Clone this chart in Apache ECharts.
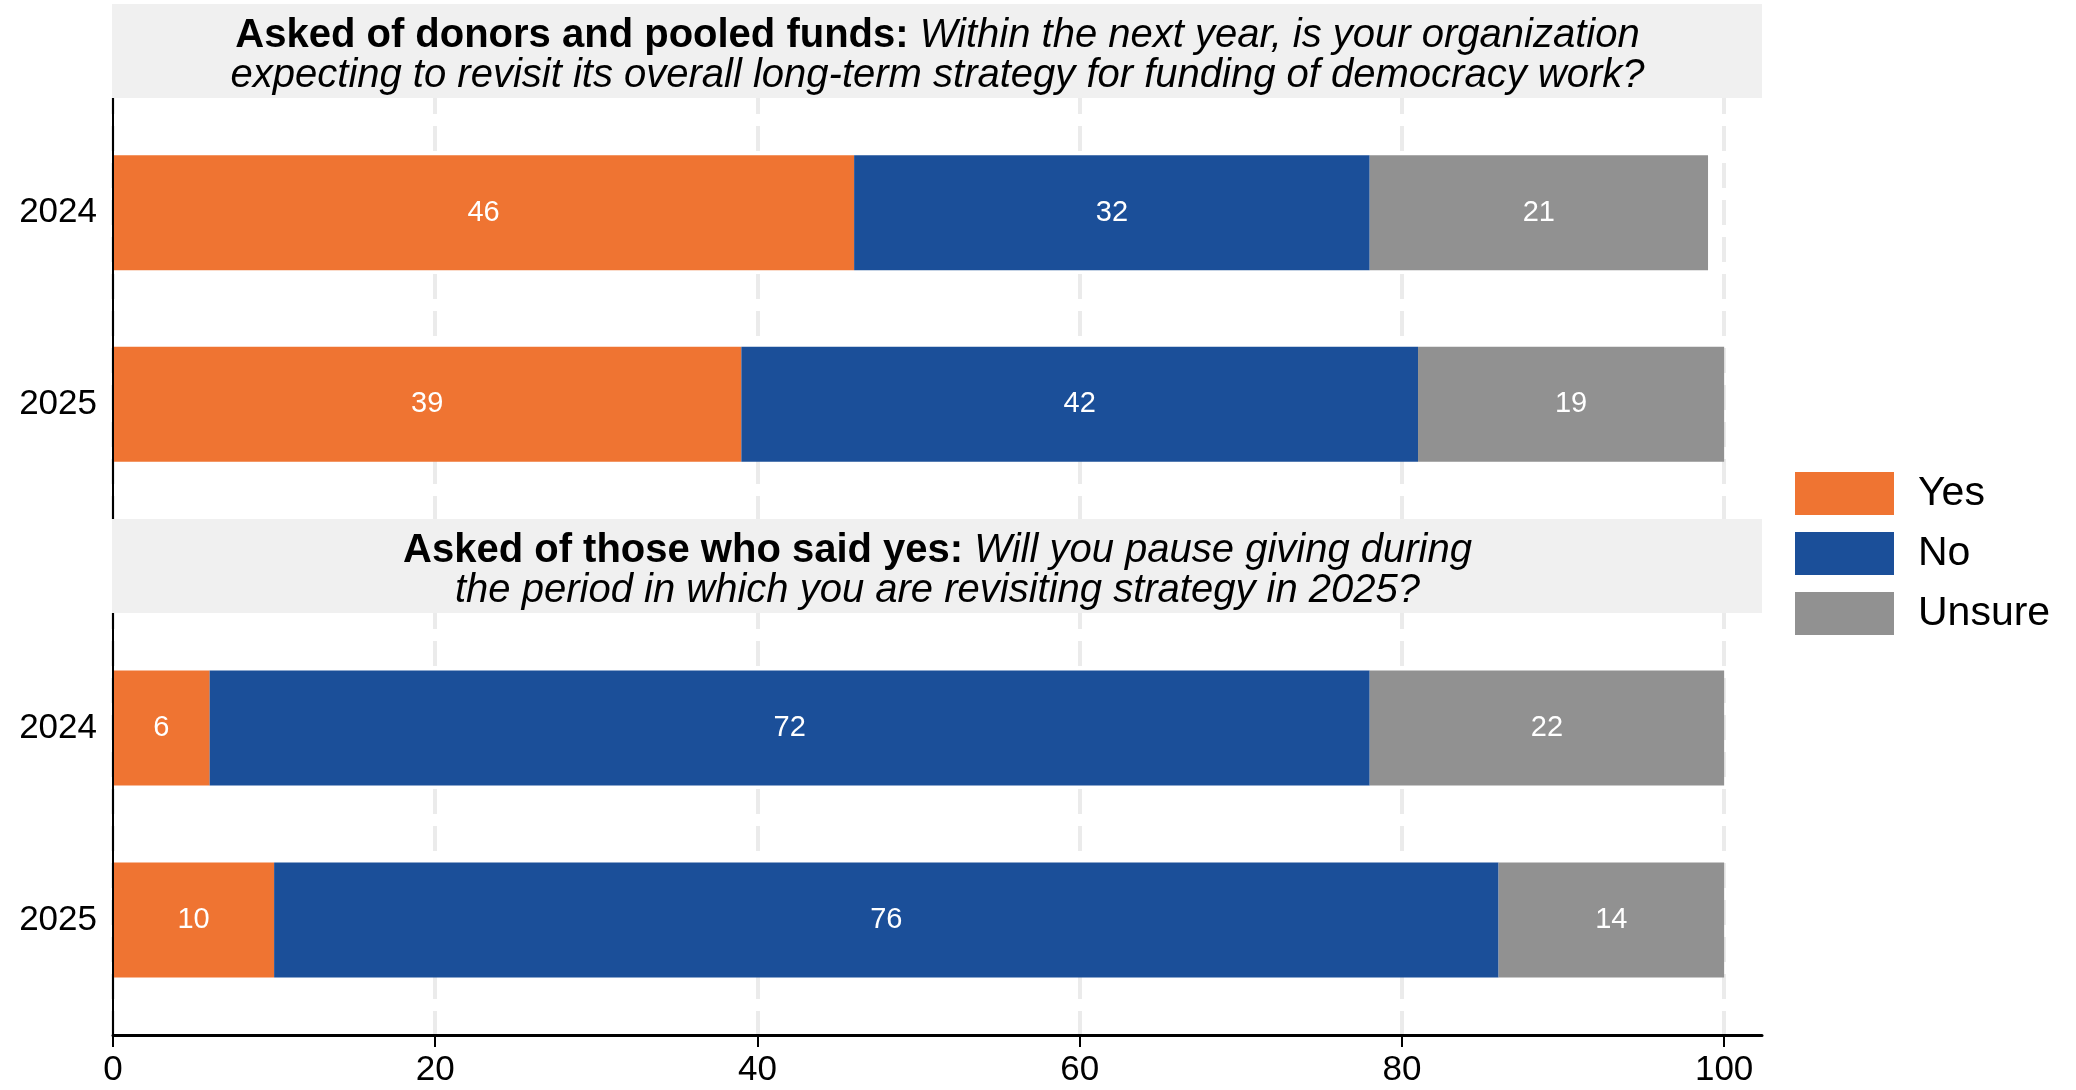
<!DOCTYPE html>
<html>
<head>
<meta charset="utf-8">
<script src="https://cdn.jsdelivr.net/npm/echarts@6/dist/echarts.min.js"></script>
<style>
  html, body { margin: 0; padding: 0; background: #fff; }
  #chart { width: 2076px; height: 1090px; }
</style>
</head>
<body>
<div id="chart"></div>
<script>
// Survey answers, percent of respondents
const years = ['2024', '2025'];
const responses = ['Yes', 'No', 'Unsure'];

// Panel 1: revisiting long-term strategy
const revisitYes = [46, 39];
const revisitNo = [32, 42];
const revisitUnsure = [21, 19];

// Panel 2: pausing giving while revisiting
const pauseYes = [6, 10];
const pauseNo = [72, 76];
const pauseUnsure = [22, 14];

const xTicks = [0, 20, 40, 60, 80, 100];

const colors = { Yes: '#EF7432', No: '#1B4F99', Unsure: '#919191' };
const FONT = '"Liberation Sans", Arial, Helvetica, sans-serif';

// Layout
const LEFT = 113, RIGHT_EDGE = 1762, WIDTH = RIGHT_EDGE - LEFT;
const X_MAX = 102.35;
const panels = [
  { stripTop: 4, top: 98, height: 421 },
  { stripTop: 519, top: 613, height: 422 }
];

function bandLayout(p) {
  const unit = p.height / 2.2;
  return { top: p.top + 0.1 * unit, height: 2 * unit, barWidth: Math.round(0.6 * unit) };
}

const grids = [], xAxes = [], yAxes = [], series = [];
const panelData = [
  { Yes: revisitYes, No: revisitNo, Unsure: revisitUnsure },
  { Yes: pauseYes, No: pauseNo, Unsure: pauseUnsure }
];

panels.forEach((p, i) => {
  const isBottom = i === panels.length - 1;
  const band = bandLayout(p);
  const frameIdx = grids.length;
  // frame grid: grid lines and axis lines
  grids.push({ left: LEFT, top: p.top, width: WIDTH, height: p.height, containLabel: false });
  xAxes.push({
    type: 'value', gridIndex: frameIdx, min: 0, max: X_MAX, z: 0,
    axisLine: { show: isBottom, onZero: false, lineStyle: { color: '#000', width: 3 } },
    axisTick: { show: isBottom, customValues: xTicks, length: 12, lineStyle: { color: '#000', width: 2 } },
    axisLabel: { show: isBottom, customValues: xTicks, fontSize: 35, color: '#000', fontFamily: FONT, margin: 18 },
    splitLine: { show: true, lineStyle: { color: '#EBEBEB', width: 4, type: [25, 12], dashOffset: 9 } }
  });
  yAxes.push({
    type: 'value', gridIndex: frameIdx, min: 0, max: 1, z: 5,
    axisLine: { show: true, onZero: false, lineStyle: { color: '#000', width: 2 } },
    axisTick: { show: false }, axisLabel: { show: false }, splitLine: { show: false }
  });
  // bar grid: the stacked bars and year labels
  const barIdx = grids.length;
  grids.push({ left: LEFT, top: band.top, width: WIDTH, height: band.height, containLabel: false });
  xAxes.push({ type: 'value', gridIndex: barIdx, min: 0, max: X_MAX, show: false, splitLine: { show: false } });
  yAxes.push({
    type: 'category', gridIndex: barIdx, data: years, inverse: true,
    axisLine: { show: false }, axisTick: { show: false }, splitLine: { show: false },
    axisLabel: { fontSize: 35, color: '#000', fontFamily: FONT, margin: 16, padding: [8, 0, 0, 0] }
  });
  responses.forEach(r => {
    series.push({
      name: r, type: 'bar', stack: 'panel' + i,
      xAxisIndex: barIdx, yAxisIndex: barIdx,
      data: panelData[i][r], barWidth: band.barWidth,
      itemStyle: { color: colors[r] },
      label: { show: true, position: 'inside', color: '#fff', fontSize: 29, fontFamily: FONT, padding: [6, 0, 0, 0] },
      emphasis: { disabled: true }, animation: false
    });
  });
});

const stripTitles = [
  '{b|Asked of donors and pooled funds:}{i| Within the next year, is your organization}\n{i|expecting to revisit its overall long-term strategy for funding of democracy work?}',
  '{b|Asked of those who said yes:}{i| Will you pause giving during}\n{i|the period in which you are revisiting strategy in 2025?}'
];
const rich = {
  b: { fontWeight: 'bold', fontSize: 40, lineHeight: 40, fontFamily: FONT, fill: '#000', color: '#000' },
  i: { fontStyle: 'italic', fontSize: 40, lineHeight: 40, fontFamily: FONT, fill: '#000', color: '#000' }
};
const graphics = [];
panels.forEach((p, i) => {
  graphics.push({
    type: 'rect', silent: true, z: 10,
    shape: { x: LEFT - 1, y: p.stripTop, width: WIDTH + 1, height: p.top - p.stripTop },
    style: { fill: '#F0F0F0' }
  });
  graphics.push({
    type: 'text', silent: true, z: 11,
    x: LEFT + WIDTH / 2, y: (p.stripTop + p.top) / 2 + 5,
    style: { text: stripTitles[i], rich: rich, align: 'center', verticalAlign: 'middle', font: '40px ' + FONT }
  });
});

const chart = echarts.init(document.getElementById('chart'), null, { renderer: 'canvas' });
chart.setOption({
  animation: false,
  backgroundColor: '#fff',
  grid: grids,
  xAxis: xAxes,
  yAxis: yAxes,
  series: series,
  graphic: graphics,
  legend: {
    data: responses, orient: 'vertical', left: 1790, top: 467,
    icon: 'rect', itemWidth: 99, itemHeight: 43, itemGap: 17,
    textStyle: { fontSize: 41, color: '#000', fontFamily: FONT, padding: [0, 0, 0, 19] },
    selectedMode: false
  }
});
</script>
</body>
</html>
